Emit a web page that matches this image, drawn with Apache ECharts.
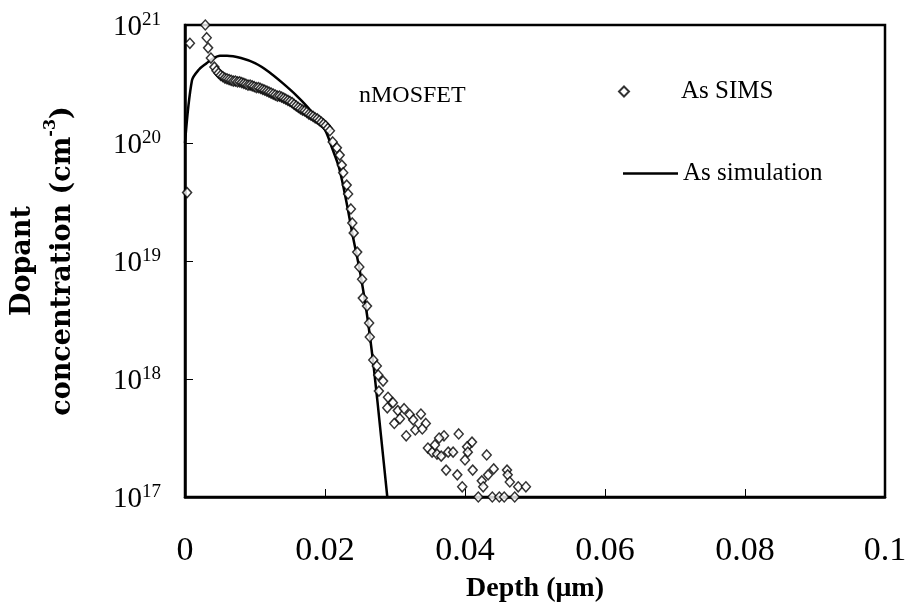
<!DOCTYPE html>
<html>
<head>
<meta charset="utf-8">
<script src="https://cdn.jsdelivr.net/npm/echarts@6/dist/echarts.min.js"></script>
<style>html,body{margin:0;padding:0;background:#fff}#c{width:909px;height:612px}</style>
</head>
<body>
<div id="c"></div>
<script>
// Simulation curve (depth in µm, concentration in cm^-3)
const simDepth = [0, 0.001, 0.002, 0.003, 0.004, 0.005, 0.006, 0.008, 0.010, 0.012, 0.014, 0.016, 0.018, 0.020, 0.021, 0.022, 0.023, 0.024, 0.025, 0.026, 0.027, 0.028, 0.0289];
const simConc  = [1.0e20, 3.4e20, 4.2e20, 4.7e20, 5.2e20, 5.5e20, 5.5e20, 5.25e20, 4.75e20, 4.0e20, 3.2e20, 2.5e20, 1.87e20, 1.29e20, 9.1e19, 6.2e19, 3.3e19, 1.6e19, 8.1e18, 3.5e18, 1.2e18, 3.3e17, 1.0e17];

// SIMS measurement
const simsDepth = [
  0.0003, 0.0007, 0.0029, 0.0031, 0.0033, 0.0037,
  0.0042, 0.0045, 0.0048, 0.0051, 0.0054, 0.0057, 0.0060, 0.0063, 0.0066, 0.0069,
  0.0072, 0.0075, 0.0078, 0.0081, 0.0084, 0.0087, 0.0090, 0.0093, 0.0096, 0.0099,
  0.0102, 0.0105, 0.0108, 0.0111, 0.0114, 0.0117, 0.0120, 0.0123, 0.0126, 0.0129,
  0.0132, 0.0135, 0.0138, 0.0141, 0.0144, 0.0147, 0.0150, 0.0153, 0.0156, 0.0159,
  0.0162, 0.0165, 0.0168, 0.0171, 0.0174, 0.0177, 0.0180, 0.0183, 0.0186, 0.0189,
  0.0192, 0.0195, 0.0198, 0.0201, 0.0204, 0.0207,
  0.0211, 0.0217, 0.0221, 0.0224, 0.0226, 0.0231, 0.0233, 0.0237, 0.0239, 0.0241,
  0.0246, 0.0249, 0.0253, 0.0254, 0.0260, 0.0263, 0.0264,
  0.0269, 0.0274, 0.0276, 0.0283, 0.0277, 0.0290, 0.0297, 0.0289, 0.0304, 0.0313,
  0.0299, 0.0307, 0.0321, 0.0337, 0.0326, 0.0344, 0.0329, 0.0339, 0.0316, 0.0370,
  0.0391, 0.0410, 0.0363, 0.0347, 0.0353, 0.0357, 0.0360, 0.0376, 0.0383, 0.0403,
  0.0404, 0.0366, 0.0400, 0.0431, 0.0373, 0.0389, 0.0411, 0.0441, 0.0433, 0.0460,
  0.0461, 0.0424, 0.0464, 0.0396, 0.0426, 0.0476, 0.0487,
  0.0419, 0.0439, 0.0449, 0.0456, 0.0471
];
const simsConc = [
  3.8e19, 7.0e20, 1.0e21, 7.8e20, 6.4e20, 5.25e20,
  4.4e20, 4.1e20, 3.9e20, 3.75e20, 3.65e20, 3.55e20, 3.5e20, 3.45e20, 3.4e20, 3.35e20,
  3.35e20, 3.3e20, 3.3e20, 3.25e20, 3.2e20, 3.15e20, 3.1e20, 3.1e20, 3.05e20, 3.0e20,
  2.95e20, 2.95e20, 2.9e20, 2.85e20, 2.8e20, 2.75e20, 2.7e20, 2.65e20, 2.6e20, 2.55e20,
  2.5e20, 2.5e20, 2.45e20, 2.4e20, 2.35e20, 2.3e20, 2.25e20, 2.2e20, 2.12e20, 2.06e20,
  2.0e20, 1.95e20, 1.9e20, 1.87e20, 1.82e20, 1.76e20, 1.72e20, 1.68e20, 1.63e20, 1.6e20,
  1.55e20, 1.5e20, 1.45e20, 1.4e20, 1.33e20, 1.27e20,
  1.02e20, 9.1e19, 7.9e19, 6.5e19, 5.6e19, 4.4e19, 3.7e19, 2.76e19, 2.1e19, 1.73e19,
  1.19e19, 8.9e18, 7.0e18, 4.85e18, 4.15e18, 2.98e18, 2.27e18,
  1.45e18, 1.29e18, 1.08e18, 9.6e17, 7.9e17, 7.0e17, 6.3e17, 5.7e17, 5.4e17, 5.6e17,
  4.2e17, 4.6e17, 5.0e17, 5.05e17, 4.5e17, 4.2e17, 3.7e17, 3.77e17, 3.3e17, 3.3e17,
  3.42e17, 2.92e17, 3.16e17, 2.6e17, 2.4e17, 2.76e17, 2.31e17, 2.4e17, 2.4e17, 2.66e17,
  2.4e17, 2.22e17, 2.06e17, 2.27e17, 1.69e17, 1.54e17, 1.69e17, 1.73e17, 1.54e17, 1.69e17,
  1.54e17, 1.37e17, 1.34e17, 1.22e17, 1.22e17, 1.22e17, 1.22e17,
  1.0e17, 1.0e17, 1.0e17, 1.0e17, 1.0e17
];

const xTickLabels = ['0', '0.02', '0.04', '0.06', '0.08', '0.1'];
const yTickExponents = ['17', '18', '19', '20', '21'];

const serif = '"Liberation Serif", "Times New Roman", serif';

const chart = echarts.init(document.getElementById('c'), null, {renderer: 'canvas'});
chart.setOption({
  backgroundColor: '#fff',
  animation: false,
  grid: {left: 185, right: 24, top: 25, bottom: 115, show: true, borderColor: '#000', borderWidth: 2.5, backgroundColor: 'transparent', containLabel: false, outerBoundsMode: 'none'},
  xAxis: {
    type: 'value', min: 0, max: 0.1, interval: 0.02,
    axisLine: {lineStyle: {color: '#000', width: 2.5}},
    axisTick: {inside: true, length: 8, lineStyle: {color: '#000', width: 1}},
    splitLine: {show: false},
    axisLabel: {
      margin: 37, color: '#000', fontFamily: serif, fontSize: 34,
      formatter: v => xTickLabels[Math.round(v / 0.02)]
    },
    name: 'Depth (μm)', nameLocation: 'middle', nameGap: 78,
    nameTextStyle: {fontFamily: serif, fontWeight: 'bold', fontSize: 28, color: '#000'}
  },
  yAxis: {
    type: 'log', logBase: 10, min: 1e17, max: 1e21,
    axisLine: {lineStyle: {color: '#000', width: 2.5}},
    axisTick: {inside: true, length: 8, lineStyle: {color: '#000', width: 1}},
    splitLine: {show: false},
    minorTick: {show: false},
    axisLabel: {
      margin: 24, color: '#000',
      formatter: v => '{b|10}{s|' + yTickExponents[Math.round(Math.log10(v)) - 17] + '}',
      rich: {
        b: {fontFamily: serif, fontSize: 29, color: '#000', verticalAlign: 'bottom', lineHeight: 34},
        s: {fontFamily: serif, fontSize: 19, color: '#000', verticalAlign: 'bottom', lineHeight: 34, padding: [0, 0, 12, 0]}
      }
    },
    name: '{b|Dopant}\n{b|concentration (cm}{s|-3}{b|)}',
    nameLocation: 'middle', nameRotate: 90, nameGap: 102,
    nameTextStyle: {
      align: 'center',
      rich: {
        b: {fontFamily: '"DejaVu Serif", serif', fontWeight: 'bold', fontSize: 27, color: '#000', lineHeight: 40},
        s: {fontFamily: '"DejaVu Serif", serif', fontWeight: 'bold', fontSize: 16, color: '#000', lineHeight: 40, verticalAlign: 'top', padding: [0, 0, 10, 0]}
      }
    }
  },
  legend: [
    {
      data: ['As SIMS'], orient: 'vertical', left: 613, top: 74,
      itemWidth: 10, itemHeight: 10,
      textStyle: {fontFamily: serif, fontSize: 25, color: '#000', padding: [0, 0, 0, 47]}
    },
    {
      data: [{name: 'As simulation', icon: 'rect'}], orient: 'vertical', left: 618, top: 156,
      itemWidth: 55, itemHeight: 2.5,
      itemStyle: {color: '#000'},
      textStyle: {fontFamily: serif, fontSize: 25, color: '#000'}
    }
  ],
  graphic: [
    {type: 'text', left: 359, top: 84, style: {text: 'nMOSFET', font: '24px "Liberation Serif", serif', fill: '#000'}}
  ],
  series: [
    {
      name: 'As simulation', type: 'line', symbol: 'none', smooth: 0.3,
      data: simDepth.map((d, i) => [d, simConc[i]]),
      lineStyle: {color: '#000', width: 2.5}, itemStyle: {color: '#000'}, z: 2
    },
    {
      name: 'As SIMS', type: 'scatter', symbol: 'diamond', symbolSize: [9, 10],
      data: simsDepth.map((d, i) => [d, simsConc[i]]),
      itemStyle: {color: '#fff', borderColor: '#000', borderWidth: 1.5}, z: 3
    }
  ]
});
</script>
</body>
</html>
